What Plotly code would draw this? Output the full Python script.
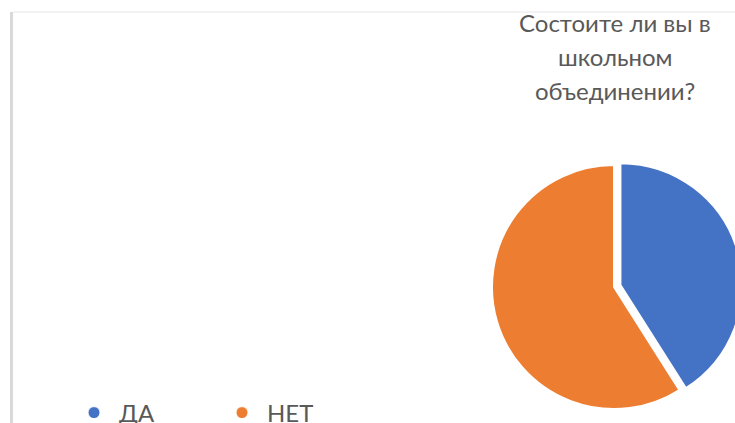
import plotly.graph_objects as go

# Figure slightly larger than the window so the pie and legend run off the
# right/bottom edge like the reference; the page margin/scrollbars are removed.
W, H = 760, 450
OFF = 0

title_lines = ["Состоите ли вы в", "школьном", "объединении?"]
labels = ["ДА", "НЕТ"]
values = [41, 59]
colors = ["#4472C4", "#ED7D31"]
pulls = [0.055, 0]


def px(x):
    return (x - OFF) / W


def py(y):
    return 1 - (y - OFF) / H


fig = go.Figure()

# pie (screen centre 614,287; radius ~122)
cx, cy, r = 614, 287, 122
half = r * (1 + max(pulls))
fig.add_trace(go.Pie(
    labels=labels, values=values, sort=False, direction="clockwise", rotation=0,
    pull=pulls, textinfo="none", hoverinfo="label+percent",
    marker=dict(colors=colors, line=dict(color="white", width=2)),
    domain=dict(x=[px(cx - half), px(cx + half)], y=[py(cy + half), py(cy - half)]),
    showlegend=False,
))

# legend entries with circle markers
for lab, col in zip(labels, colors):
    fig.add_trace(go.Scatter(
        x=[None], y=[None], mode="markers", name=lab,
        marker=dict(symbol="circle", size=12, color=col, line=dict(color="white", width=1)),
        showlegend=True, hoverinfo="skip",
    ))

title_annotations = [
    dict(text=line, xref="paper", yref="paper", x=px(615), y=py(6 + 34 * i),
         xanchor="center", yanchor="top", showarrow=False,
         font=dict(size=24, color="#595959"))
    for i, line in enumerate(title_lines)
]

fig.update_layout(
    width=W, height=H, autosize=False,
    margin=dict(l=0, r=0, t=0, b=0),
    paper_bgcolor="white", plot_bgcolor="white",
    font=dict(family="Lato, Carlito, sans-serif", color="#595959"),
    xaxis=dict(visible=False), yaxis=dict(visible=False),
    annotations=title_annotations,
    legend=dict(orientation="h", x=px(69), xanchor="left", y=py(413), yanchor="middle",
                font=dict(size=24, color="#595959"), itemwidth=40,
                entrywidth=93, entrywidthmode="pixels", bgcolor="rgba(0,0,0,0)"),
    shapes=[
        dict(type="line", xref="paper", yref="paper", x0=px(11.5), x1=px(11.5),
             y0=py(12), y1=0, line=dict(color="#d9d9d9", width=3)),
        dict(type="line", xref="paper", yref="paper", x0=px(13), x1=1,
             y0=py(12), y1=py(12), line=dict(color="#e6e6e6", width=1)),
    ],
)

fig.write_html(
    "out.html",
    config={"displayModeBar": False},
    post_script="document.body.style.margin='0';"
                "document.documentElement.style.overflow='hidden';"
                "document.body.style.overflow='hidden';",
)
